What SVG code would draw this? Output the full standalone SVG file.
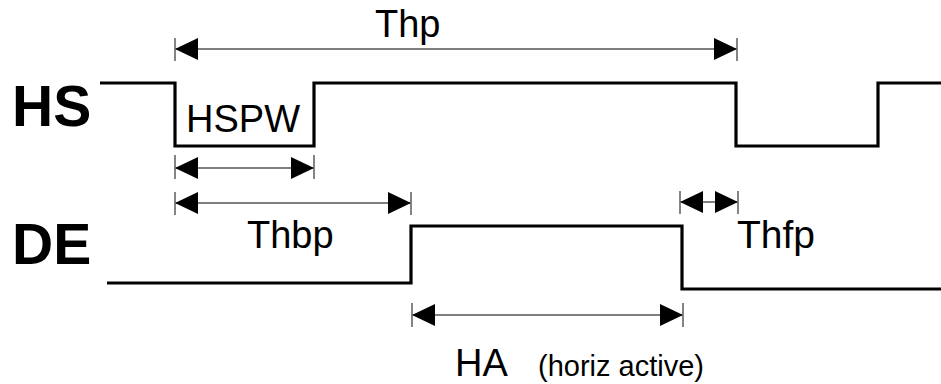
<svg xmlns="http://www.w3.org/2000/svg" width="941" height="384" viewBox="0 0 941 384">
<style>
.wave{fill:none;stroke:#000;stroke-width:3.2;stroke-linejoin:miter}
.dim{stroke:#555;stroke-width:1.4;fill:none}
.tick{stroke:#666;stroke-width:1.6}
.lbl{font-family:"Liberation Sans",Arial,sans-serif;fill:#000}
.big{font-family:"Liberation Sans",Arial,sans-serif;font-weight:bold;font-size:57px;fill:#000}
</style>
<defs>
<marker id="ah" viewBox="0 0 23 22" refX="23" refY="11" markerWidth="23" markerHeight="22" markerUnits="userSpaceOnUse" orient="auto-start-reverse">
<path d="M0 0 L23 11 L0 22 Z" fill="#000"/>
</marker>
</defs>
<rect width="941" height="384" fill="#fff"/>
<g id="HS">
<path class="wave" d="M100 83 H175 V146 H314 V83 H736 V146 H878 V83 H941"/>
<text class="big" x="12" y="126">HS</text>
</g>
<g id="DE">
<path class="wave" d="M107 283 H411 V226 H682 V289 H941"/>
<text class="big" x="12" y="264">DE</text>
</g>
<g id="connectors">
<g id="Thp">
<line class="dim" x1="175" y1="49" x2="737" y2="49" marker-start="url(#ah)" marker-end="url(#ah)"/>
<line class="tick" x1="175" y1="38" x2="175" y2="61"/>
<line class="tick" x1="737" y1="38" x2="737" y2="61"/>
</g>
<g id="HSPW">
<line class="dim" x1="175" y1="168" x2="314" y2="168" marker-start="url(#ah)" marker-end="url(#ah)"/>
<line class="tick" x1="175" y1="155" x2="175" y2="179"/>
<line class="tick" x1="314" y1="155" x2="314" y2="179"/>
</g>
<g id="Thbp">
<line class="dim" x1="175" y1="203" x2="411" y2="203" marker-start="url(#ah)" marker-end="url(#ah)"/>
<line class="tick" x1="175" y1="192" x2="175" y2="215"/>
<line class="tick" x1="411" y1="192" x2="411" y2="215"/>
</g>
<g id="Thfp">
<line class="dim" x1="680" y1="202" x2="738" y2="202" marker-start="url(#ah)" marker-end="url(#ah)"/>
<line class="tick" x1="680" y1="191" x2="680" y2="214"/>
<line class="tick" x1="738" y1="191" x2="738" y2="214"/>
</g>
<g id="HA">
<line class="dim" x1="412" y1="315" x2="683" y2="315" marker-start="url(#ah)" marker-end="url(#ah)"/>
<line class="tick" x1="412" y1="303" x2="412" y2="327"/>
<line class="tick" x1="683" y1="303" x2="683" y2="327"/>
</g>
</g>
<g id="labels">
<text class="lbl" x="375" y="37" font-size="38">Thp</text>
<text class="lbl" x="186" y="132" font-size="38">HSPW</text>
<text class="lbl" x="247" y="248" font-size="38">Thbp</text>
<text class="lbl" x="737" y="248" font-size="39">Thfp</text>
<text class="lbl" x="455" y="376" font-size="38">HA</text>
<text class="lbl" x="538" y="376" font-size="29">(horiz active)</text>
</g>
</svg>
